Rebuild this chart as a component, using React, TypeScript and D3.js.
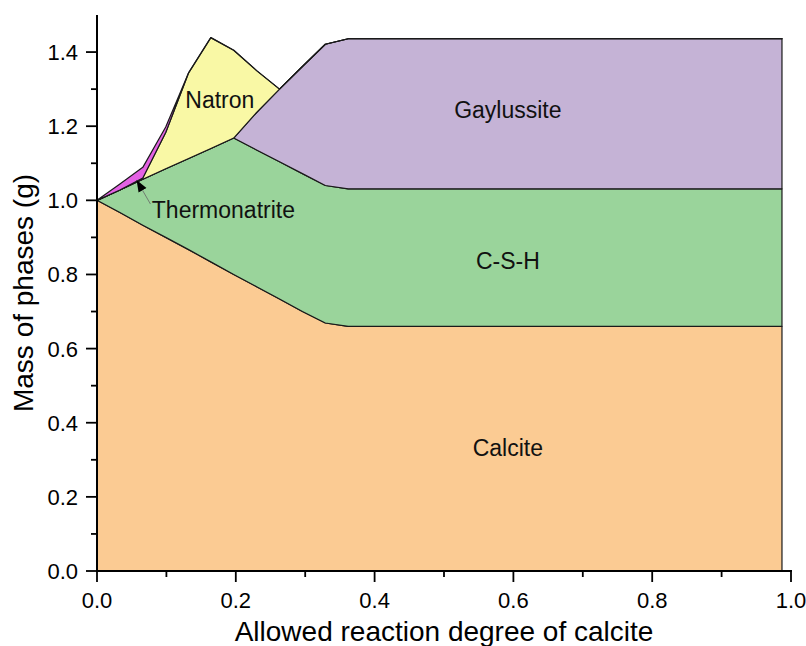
import * as d3 from "d3";
import { useEffect, useRef } from "react";

// allowed reaction degree of calcite (x)
const degree = [0, 0.033, 0.066, 0.099, 0.132, 0.164, 0.197, 0.23, 0.263, 0.296, 0.329, 0.362, 0.987];

// mass of each phase (g), stacked in this order
const calcite = [1.0, 0.967, 0.933, 0.9, 0.867, 0.834, 0.8, 0.767, 0.734, 0.7, 0.669, 0.66, 0.66];
const csh = [0, 0.061, 0.124, 0.185, 0.246, 0.306, 0.368, 0.369, 0.37, 0.372, 0.371, 0.371, 0.371];
const gaylussite = [0, 0, 0, 0, 0, 0, 0, 0.101, 0.196, 0.289, 0.381, 0.405, 0.405];
const natron = [0, 0, 0.003, 0.098, 0.231, 0.299, 0.237, 0.113, 0, 0, 0, 0, 0];
const thermonatrite = [0, 0.016, 0.029, 0.015, 0, 0, 0, 0, 0, 0, 0, 0, 0];

const phases = ["Calcite", "C-S-H", "Gaylussite", "Natron", "Thermonatrite"];
const colors = ["#FBCB93", "#9AD49B", "#C5B3D6", "#F9F8A5", "#E462E4"];

const xTicks = [0, 0.2, 0.4, 0.6, 0.8, 1.0];
const yTicks = [0, 0.2, 0.4, 0.6, 0.8, 1.0, 1.2, 1.4];
const xMinor = [0.1, 0.3, 0.5, 0.7, 0.9];
const yMinor = [0.1, 0.3, 0.5, 0.7, 0.9, 1.1, 1.3];

// label anchors in data units
const labels = [
  { text: "Natron", x: 0.177, y: 1.27 },
  { text: "Gaylussite", x: 0.592, y: 1.243 },
  { text: "C-S-H", x: 0.592, y: 0.837 },
  { text: "Calcite", x: 0.592, y: 0.332 },
];

export default function App() {
  const svgRef = useRef<SVGSVGElement | null>(null);

  useEffect(() => {
    const svg = d3.select(svgRef.current);
    const width = 806;
    const height = 646;
    const margin = { top: 15, right: 15, bottom: 75, left: 97 };

    svg.selectAll("*").remove();
    svg.attr("width", width).attr("height", height);

    const font = "'Liberation Sans', Arial, sans-serif";

    const x = d3.scaleLinear().domain([0, 1]).range([margin.left, width - margin.right]);
    const y = d3.scaleLinear().domain([0, 1.5]).range([height - margin.bottom, margin.top]);

    const series = [calcite, csh, gaylussite, natron, thermonatrite];
    const rows = degree.map((d, i) => {
      const row: Record<string, number> = { degree: d };
      phases.forEach((p, k) => (row[p] = series[k][i]));
      return row;
    });

    const stacked = d3.stack<Record<string, number>>().keys(phases)(rows);

    const area = d3
      .area<d3.SeriesPoint<Record<string, number>>>()
      .x((d) => x(d.data.degree))
      .y0((d) => y(d[0]))
      .y1((d) => y(d[1]));

    svg
      .selectAll(".layer")
      .data(stacked)
      .enter()
      .append("path")
      .attr("class", "layer")
      .attr("fill", (_, i) => colors[i])
      .attr("stroke", "#1a1a1a")
      .attr("stroke-width", 1.2)
      .attr("stroke-linejoin", "round")
      .attr("d", area);

    // axes
    const xAxis = svg.append("g").attr("transform", `translate(0,${y(0)})`);
    xAxis
      .append("line")
      .attr("x1", x(0) - 1)
      .attr("x2", x(1) + 1)
      .attr("stroke", "#000")
      .attr("stroke-width", 2);
    xAxis
      .selectAll(".minor")
      .data(xMinor)
      .enter()
      .append("line")
      .attr("x1", (d) => x(d))
      .attr("x2", (d) => x(d))
      .attr("y2", 6)
      .attr("stroke", "#000")
      .attr("stroke-width", 1.8);
    xAxis
      .selectAll(".major")
      .data(xTicks)
      .enter()
      .append("line")
      .attr("x1", (d) => x(d))
      .attr("x2", (d) => x(d))
      .attr("y2", 11)
      .attr("stroke", "#000")
      .attr("stroke-width", 1.8);
    xAxis
      .selectAll(".lbl")
      .data(xTicks)
      .enter()
      .append("text")
      .attr("x", (d) => x(d))
      .attr("y", 37)
      .attr("text-anchor", "middle")
      .attr("font-family", font)
      .attr("font-size", 22)
      .text((d) => d.toFixed(1));

    const yAxis = svg.append("g").attr("transform", `translate(${x(0)},0)`);
    yAxis
      .append("line")
      .attr("y1", y(0) + 1)
      .attr("y2", y(1.5))
      .attr("stroke", "#000")
      .attr("stroke-width", 2);
    yAxis
      .selectAll(".minor")
      .data(yMinor)
      .enter()
      .append("line")
      .attr("y1", (d) => y(d))
      .attr("y2", (d) => y(d))
      .attr("x2", -6)
      .attr("stroke", "#000")
      .attr("stroke-width", 1.8);
    yAxis
      .selectAll(".major")
      .data(yTicks)
      .enter()
      .append("line")
      .attr("y1", (d) => y(d))
      .attr("y2", (d) => y(d))
      .attr("x2", -11)
      .attr("stroke", "#000")
      .attr("stroke-width", 1.8);
    yAxis
      .selectAll(".lbl")
      .data(yTicks)
      .enter()
      .append("text")
      .attr("x", -19)
      .attr("y", (d) => y(d))
      .attr("dy", "0.36em")
      .attr("text-anchor", "end")
      .attr("font-family", font)
      .attr("font-size", 22)
      .text((d) => d.toFixed(1));

    svg
      .append("text")
      .attr("x", (x(0) + x(1)) / 2)
      .attr("y", 641)
      .attr("text-anchor", "middle")
      .attr("font-family", font)
      .attr("font-size", 28)
      .text("Allowed reaction degree of calcite");

    svg
      .append("text")
      .attr("transform", `translate(33,293) rotate(-90)`)
      .attr("text-anchor", "middle")
      .attr("font-family", font)
      .attr("font-size", 28)
      .text("Mass of phases (g)");

    // phase labels
    svg
      .selectAll(".phase-label")
      .data(labels)
      .enter()
      .append("text")
      .attr("class", "phase-label")
      .attr("x", (d) => x(d.x))
      .attr("y", (d) => y(d.y))
      .attr("dy", "0.35em")
      .attr("text-anchor", "middle")
      .attr("font-family", font)
      .attr("font-size", 23)
      .attr("fill", "#111")
      .text((d) => d.text);

    // Thermonatrite callout with arrow
    const tip = { x: 0.057, y: 1.055 };
    const tail = { x: 0.077, y: 0.99 };
    svg
      .append("defs")
      .append("marker")
      .attr("id", "arrow")
      .attr("viewBox", "0 0 10 10")
      .attr("refX", 10)
      .attr("refY", 5)
      .attr("markerWidth", 12)
      .attr("markerHeight", 12)
      .attr("markerUnits", "userSpaceOnUse")
      .attr("orient", "auto")
      .append("path")
      .attr("d", "M0,1.2L10,5L0,8.8Z")
      .attr("fill", "#000");
    svg
      .append("line")
      .attr("x1", x(tail.x))
      .attr("y1", y(tail.y))
      .attr("x2", x(tip.x))
      .attr("y2", y(tip.y))
      .attr("stroke", "#666")
      .attr("stroke-width", 0.8)
      .attr("marker-end", "url(#arrow)");
    svg
      .append("text")
      .attr("x", x(0.079))
      .attr("y", y(0.952))
      .attr("font-family", font)
      .attr("font-size", 23)
      .attr("fill", "#111")
      .text("Thermonatrite");
  }, []);

  return (
    <svg
      ref={svgRef}
      style={{ position: "absolute", left: 0, top: 0, background: "#fff" }}
    ></svg>
  );
}
